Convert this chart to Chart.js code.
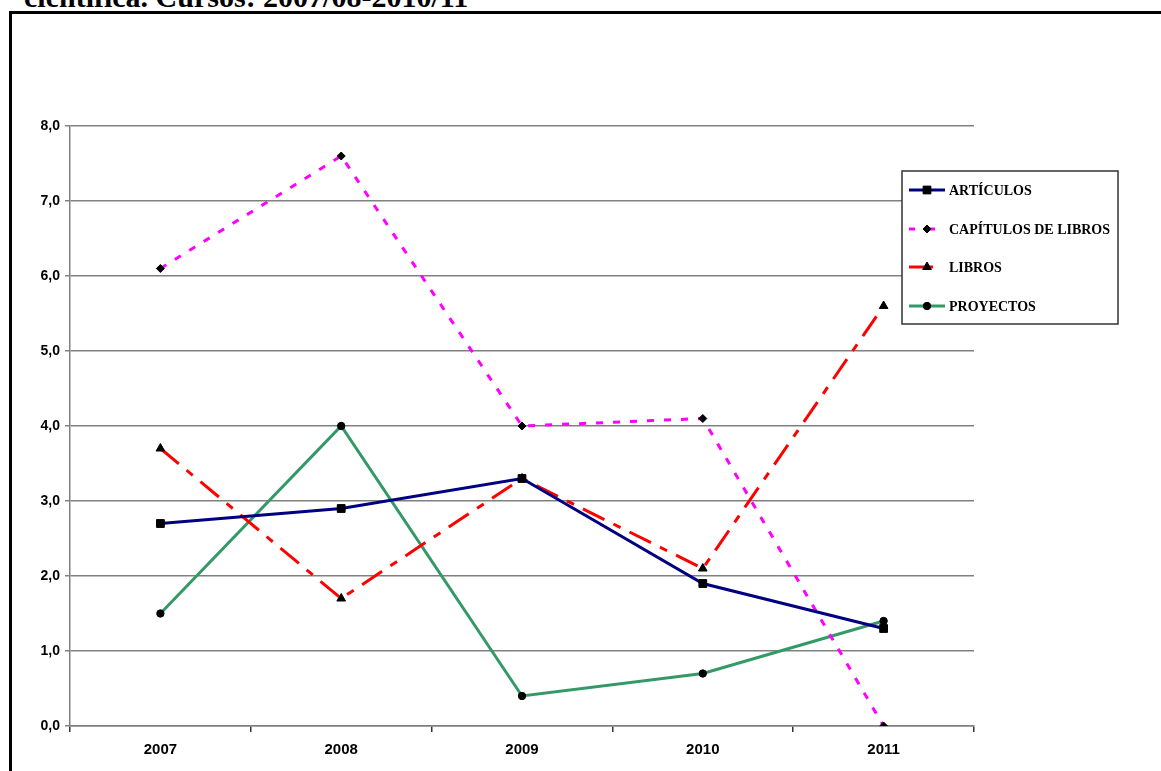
<!DOCTYPE html>
<html>
<head>
<meta charset="utf-8">
<script src="https://cdn.jsdelivr.net/npm/chart.js@4"></script>
<style>
  html, body { margin: 0; padding: 0; background: #fff; overflow: hidden; }
  #wrap { position: relative; width: 1161px; height: 771px; overflow: hidden; }
  #title { position: absolute; left: 24px; top: -20px; line-height: 1; font: bold 30px "Liberation Serif", "Times New Roman", serif; color: #000; white-space: nowrap; }
  #frame { position: absolute; left: 9px; top: 11px; width: 1300px; height: 900px; border: 3px solid #000; box-sizing: border-box; }
  #c { position: absolute; left: 0; top: 0; }
</style>
</head>
<body>
<div id="wrap">
  <div id="title">científica. Cursos: 2007/08-2010/11</div>
  <div id="frame"></div>
  <canvas id="c" width="1161" height="771"></canvas>
</div>
<script>
const categories = ['2007', '2008', '2009', '2010', '2011'];
const articulos = [2.7, 2.9, 3.3, 1.9, 1.3];
const capitulos = [6.1, 7.6, 4.0, 4.1, 0.0];
const libros = [3.7, 1.7, 3.3, 2.1, 5.6];
const proyectos = [1.5, 4.0, 0.4, 0.7, 1.4];
const seriesNames = ['ARTÍCULOS', 'CAPÍTULOS DE LIBROS', 'LIBROS', 'PROYECTOS'];

const styles = [
  { color: '#000080', dash: [], marker: 'rect', radius: 5.5 },
  { color: '#FF00FF', dash: [7, 10], marker: 'rectRot', radius: 4 },
  { color: '#FF0000', dash: [24, 10, 8, 10], marker: 'triangle', radius: 5 },
  { color: '#339966', dash: [], marker: 'circle', radius: 3.7 }
];
const values = [articulos, capitulos, libros, proyectos];

const datasets = values.map((v, i) => ({
  label: seriesNames[i],
  data: v,
  borderColor: styles[i].color,
  borderWidth: 3,
  borderDash: styles[i].dash,
  pointStyle: styles[i].marker,
  pointRadius: styles[i].radius,
  pointBackgroundColor: '#000',
  pointBorderColor: '#000',
  pointBorderWidth: 1,
  tension: 0,
  fill: false
}));

const legendPlugin = {
  id: 'boxLegend',
  afterDraw(chart) {
    const ctx = chart.ctx;
    const x0 = 902, y0 = 171, w = 216, h = 153;
    ctx.save();
    ctx.fillStyle = '#fff';
    ctx.fillRect(x0, y0, w, h);
    ctx.strokeStyle = '#333';
    ctx.lineWidth = 1.5;
    ctx.strokeRect(x0, y0, w, h);
    const ys = [190, 229, 267, 306];
    ctx.font = 'bold 14px "Liberation Serif", "Times New Roman", serif';
    ctx.textBaseline = 'middle';
    ys.forEach((y, i) => {
      const s = styles[i];
      ctx.strokeStyle = s.color;
      ctx.lineWidth = 3;
      ctx.setLineDash(s.dash.length ? (i === 1 ? [6, 14] : [24, 10]) : []);
      ctx.beginPath();
      ctx.moveTo(909, y);
      ctx.lineTo(i === 2 ? 933 : 945, y);
      ctx.stroke();
      ctx.setLineDash([]);
      ctx.fillStyle = '#000';
      ctx.strokeStyle = '#000';
      ctx.lineWidth = 1;
      Chart.helpers.drawPoint(ctx, { pointStyle: s.marker, radius: s.radius, borderWidth: 1 }, 927, y);
      ctx.fillStyle = '#000';
      ctx.fillText(seriesNames[i], 949, y + 1);
    });
    ctx.restore();
  }
};

new Chart(document.getElementById('c'), {
  type: 'line',
  data: { labels: categories, datasets },
  options: {
    responsive: false,
    animation: false,
    layout: { padding: { left: 0, top: 126, right: 187, bottom: 0 } },
    plugins: { legend: { display: false }, tooltip: { enabled: false } },
    scales: {
      x: {
        offset: true,
        afterFit(s) { s.height = 45; },
        grid: { drawOnChartArea: false, offset: true, tickLength: 6, color: '#333', lineWidth: 1.5 },
        border: { color: '#808080', width: 1.5 },
        ticks: { color: '#000', padding: 9, font: { family: '"Liberation Sans", Arial, sans-serif', size: 15, weight: 'bold' } }
      },
      y: {
        min: 0, max: 8,
        afterFit(s) { s.width = 70; },
        grid: { color: '#808080', lineWidth: 1.5, tickLength: 5 },
        border: { color: '#808080', width: 1.5 },
        ticks: {
          stepSize: 1, color: '#000', padding: 5,
          font: { family: '"Liberation Sans", Arial, sans-serif', size: 14, weight: 'bold' },
          callback: v => v.toFixed(1).replace('.', ',')
        }
      }
    }
  },
  plugins: [legendPlugin]
});
</script>
</body>
</html>
